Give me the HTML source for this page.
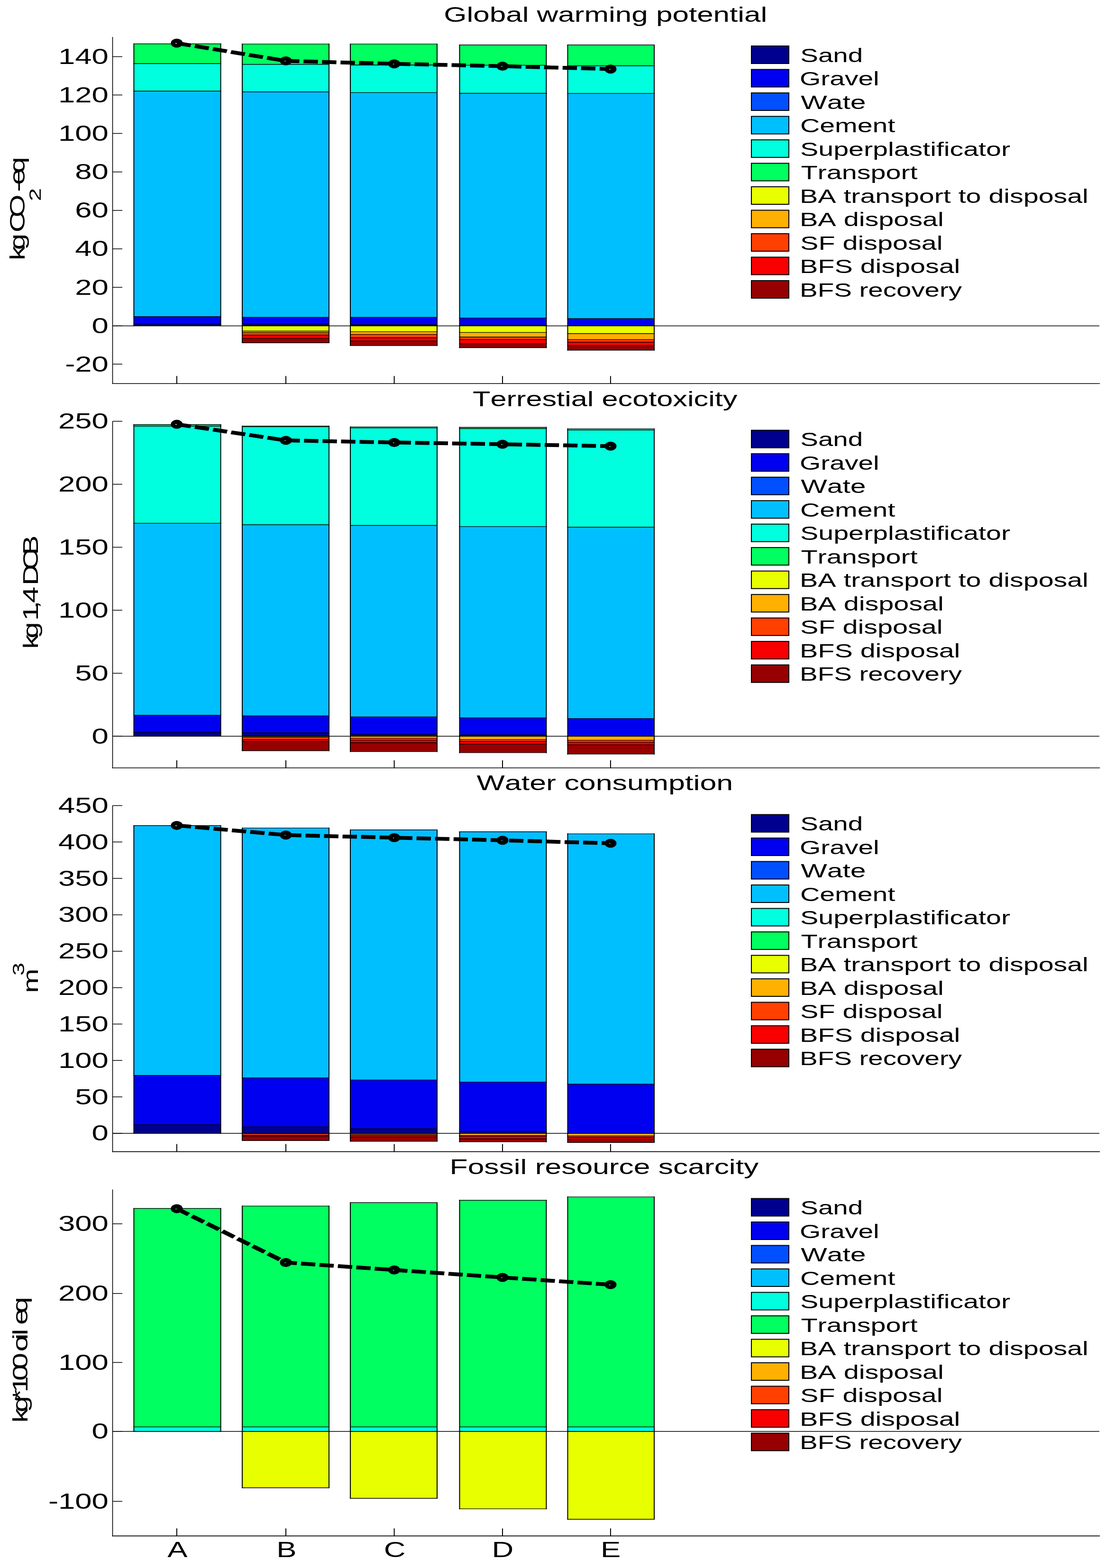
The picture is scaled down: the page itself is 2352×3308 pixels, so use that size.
<!DOCTYPE html>
<html><head><meta charset="utf-8"><title>LCA impact categories</title>
<style>html,body{margin:0;padding:0;background:#fff;}svg{display:block;}text{font-family:"Liberation Sans",Arial,Helvetica,sans-serif;fill:#000;font-kerning:none;font-variant-ligatures:none;}</style></head><body>
<svg width="2352" height="3308" viewBox="0 0 2352 3308">
<rect x="0" y="0" width="2352" height="3308" fill="#fff"/>
<g>
<rect x="282.4" y="683.4" width="183.2" height="4" fill="#00008f"/>
<rect x="282.4" y="668" width="183.2" height="15.4" fill="#0000f0"/>
<rect x="282.4" y="192.3" width="183.2" height="475.7" fill="#00bfff"/>
<rect x="282.4" y="134.3" width="183.2" height="58" fill="#00ffdf"/>
<rect x="282.4" y="92.5" width="183.2" height="41.8" fill="#00ff60"/>
<line x1="281.4" y1="92.5" x2="466.6" y2="92.5" stroke="#000" stroke-width="1.4"/>
<line x1="281.4" y1="134.3" x2="466.6" y2="134.3" stroke="#000" stroke-width="1.4"/>
<line x1="281.4" y1="192.3" x2="466.6" y2="192.3" stroke="#000" stroke-width="1.4"/>
<line x1="281.4" y1="668" x2="466.6" y2="668" stroke="#000" stroke-width="1.4"/>
<line x1="281.4" y1="683.4" x2="466.6" y2="683.4" stroke="#000" stroke-width="1.4"/>
<line x1="281.4" y1="687.4" x2="466.6" y2="687.4" stroke="#000" stroke-width="1.4"/>
<line x1="282.4" y1="91.7" x2="282.4" y2="688.2" stroke="#000" stroke-width="2"/>
<line x1="465.6" y1="91.7" x2="465.6" y2="688.2" stroke="#000" stroke-width="2"/>
<rect x="511" y="683.4" width="183" height="4" fill="#00008f"/>
<rect x="511" y="669.4" width="183" height="14" fill="#0000f0"/>
<rect x="511" y="193.8" width="183" height="475.6" fill="#00bfff"/>
<rect x="511" y="135.8" width="183" height="58" fill="#00ffdf"/>
<rect x="511" y="92.9" width="183" height="42.9" fill="#00ff60"/>
<rect x="511" y="687.4" width="183" height="11" fill="#e8ff00"/>
<rect x="511" y="698.4" width="183" height="3" fill="#ffb000"/>
<rect x="511" y="701.4" width="183" height="5.5" fill="#ff4000"/>
<rect x="511" y="706.9" width="183" height="7" fill="#f80000"/>
<rect x="511" y="713.9" width="183" height="9.4" fill="#960000"/>
<line x1="510" y1="92.9" x2="695" y2="92.9" stroke="#000" stroke-width="1.4"/>
<line x1="510" y1="135.8" x2="695" y2="135.8" stroke="#000" stroke-width="1.4"/>
<line x1="510" y1="193.8" x2="695" y2="193.8" stroke="#000" stroke-width="1.4"/>
<line x1="510" y1="669.4" x2="695" y2="669.4" stroke="#000" stroke-width="1.4"/>
<line x1="510" y1="683.4" x2="695" y2="683.4" stroke="#000" stroke-width="1.4"/>
<line x1="510" y1="687.4" x2="695" y2="687.4" stroke="#000" stroke-width="1.4"/>
<line x1="510" y1="698.4" x2="695" y2="698.4" stroke="#000" stroke-width="1.4"/>
<line x1="510" y1="701.4" x2="695" y2="701.4" stroke="#000" stroke-width="1.4"/>
<line x1="510" y1="706.9" x2="695" y2="706.9" stroke="#000" stroke-width="1.4"/>
<line x1="510" y1="713.9" x2="695" y2="713.9" stroke="#000" stroke-width="1.4"/>
<line x1="510" y1="723.3" x2="695" y2="723.3" stroke="#000" stroke-width="1.4"/>
<line x1="511" y1="92.1" x2="511" y2="724.1" stroke="#000" stroke-width="2"/>
<line x1="694" y1="92.1" x2="694" y2="724.1" stroke="#000" stroke-width="2"/>
<rect x="739" y="684.9" width="183" height="2.5" fill="#00008f"/>
<rect x="739" y="669.4" width="183" height="15.5" fill="#0000f0"/>
<rect x="739" y="195.4" width="183" height="474" fill="#00bfff"/>
<rect x="739" y="137.2" width="183" height="58.2" fill="#00ffdf"/>
<rect x="739" y="92.9" width="183" height="44.3" fill="#00ff60"/>
<rect x="739" y="687.4" width="183" height="12.5" fill="#e8ff00"/>
<rect x="739" y="699.9" width="183" height="5.5" fill="#ffb000"/>
<rect x="739" y="705.4" width="183" height="7.1" fill="#ff4000"/>
<rect x="739" y="712.5" width="183" height="7" fill="#f80000"/>
<rect x="739" y="719.5" width="183" height="9.6" fill="#960000"/>
<line x1="738" y1="92.9" x2="923" y2="92.9" stroke="#000" stroke-width="1.4"/>
<line x1="738" y1="137.2" x2="923" y2="137.2" stroke="#000" stroke-width="1.4"/>
<line x1="738" y1="195.4" x2="923" y2="195.4" stroke="#000" stroke-width="1.4"/>
<line x1="738" y1="669.4" x2="923" y2="669.4" stroke="#000" stroke-width="1.4"/>
<line x1="738" y1="684.9" x2="923" y2="684.9" stroke="#000" stroke-width="1.4"/>
<line x1="738" y1="687.4" x2="923" y2="687.4" stroke="#000" stroke-width="1.4"/>
<line x1="738" y1="699.9" x2="923" y2="699.9" stroke="#000" stroke-width="1.4"/>
<line x1="738" y1="705.4" x2="923" y2="705.4" stroke="#000" stroke-width="1.4"/>
<line x1="738" y1="712.5" x2="923" y2="712.5" stroke="#000" stroke-width="1.4"/>
<line x1="738" y1="719.5" x2="923" y2="719.5" stroke="#000" stroke-width="1.4"/>
<line x1="738" y1="729.1" x2="923" y2="729.1" stroke="#000" stroke-width="1.4"/>
<line x1="739" y1="92.1" x2="739" y2="729.9" stroke="#000" stroke-width="2"/>
<line x1="922" y1="92.1" x2="922" y2="729.9" stroke="#000" stroke-width="2"/>
<rect x="969.5" y="686.2" width="182.9" height="1.2" fill="#00008f"/>
<rect x="969.5" y="670.9" width="182.9" height="15.3" fill="#0000f0"/>
<rect x="969.5" y="196.7" width="182.9" height="474.2" fill="#00bfff"/>
<rect x="969.5" y="137.6" width="182.9" height="59.1" fill="#00ffdf"/>
<rect x="969.5" y="94.8" width="182.9" height="42.8" fill="#00ff60"/>
<rect x="969.5" y="687.4" width="182.9" height="14" fill="#e8ff00"/>
<rect x="969.5" y="701.4" width="182.9" height="9.6" fill="#ffb000"/>
<rect x="969.5" y="711" width="182.9" height="5.4" fill="#ff4000"/>
<rect x="969.5" y="716.4" width="182.9" height="8.5" fill="#f80000"/>
<rect x="969.5" y="724.9" width="182.9" height="8.6" fill="#960000"/>
<line x1="968.5" y1="94.8" x2="1153.4" y2="94.8" stroke="#000" stroke-width="1.4"/>
<line x1="968.5" y1="137.6" x2="1153.4" y2="137.6" stroke="#000" stroke-width="1.4"/>
<line x1="968.5" y1="196.7" x2="1153.4" y2="196.7" stroke="#000" stroke-width="1.4"/>
<line x1="968.5" y1="670.9" x2="1153.4" y2="670.9" stroke="#000" stroke-width="1.4"/>
<line x1="968.5" y1="686.2" x2="1153.4" y2="686.2" stroke="#000" stroke-width="1.4"/>
<line x1="968.5" y1="687.4" x2="1153.4" y2="687.4" stroke="#000" stroke-width="1.4"/>
<line x1="968.5" y1="701.4" x2="1153.4" y2="701.4" stroke="#000" stroke-width="1.4"/>
<line x1="968.5" y1="711" x2="1153.4" y2="711" stroke="#000" stroke-width="1.4"/>
<line x1="968.5" y1="716.4" x2="1153.4" y2="716.4" stroke="#000" stroke-width="1.4"/>
<line x1="968.5" y1="724.9" x2="1153.4" y2="724.9" stroke="#000" stroke-width="1.4"/>
<line x1="968.5" y1="733.5" x2="1153.4" y2="733.5" stroke="#000" stroke-width="1.4"/>
<line x1="969.5" y1="94" x2="969.5" y2="734.3" stroke="#000" stroke-width="2"/>
<line x1="1152.4" y1="94" x2="1152.4" y2="734.3" stroke="#000" stroke-width="2"/>
<rect x="1197.5" y="672.2" width="182.5" height="15.2" fill="#0000f0"/>
<rect x="1197.5" y="197.1" width="182.5" height="475.1" fill="#00bfff"/>
<rect x="1197.5" y="138.7" width="182.5" height="58.4" fill="#00ffdf"/>
<rect x="1197.5" y="94.8" width="182.5" height="43.9" fill="#00ff60"/>
<rect x="1197.5" y="687.4" width="182.5" height="16.4" fill="#e8ff00"/>
<rect x="1197.5" y="703.8" width="182.5" height="12.6" fill="#ffb000"/>
<rect x="1197.5" y="716.4" width="182.5" height="5.4" fill="#ff4000"/>
<rect x="1197.5" y="721.8" width="182.5" height="7.1" fill="#f80000"/>
<rect x="1197.5" y="728.9" width="182.5" height="9.8" fill="#960000"/>
<line x1="1196.5" y1="94.8" x2="1381" y2="94.8" stroke="#000" stroke-width="1.4"/>
<line x1="1196.5" y1="138.7" x2="1381" y2="138.7" stroke="#000" stroke-width="1.4"/>
<line x1="1196.5" y1="197.1" x2="1381" y2="197.1" stroke="#000" stroke-width="1.4"/>
<line x1="1196.5" y1="672.2" x2="1381" y2="672.2" stroke="#000" stroke-width="1.4"/>
<line x1="1196.5" y1="687.4" x2="1381" y2="687.4" stroke="#000" stroke-width="1.4"/>
<line x1="1196.5" y1="703.8" x2="1381" y2="703.8" stroke="#000" stroke-width="1.4"/>
<line x1="1196.5" y1="716.4" x2="1381" y2="716.4" stroke="#000" stroke-width="1.4"/>
<line x1="1196.5" y1="721.8" x2="1381" y2="721.8" stroke="#000" stroke-width="1.4"/>
<line x1="1196.5" y1="728.9" x2="1381" y2="728.9" stroke="#000" stroke-width="1.4"/>
<line x1="1196.5" y1="738.7" x2="1381" y2="738.7" stroke="#000" stroke-width="1.4"/>
<line x1="1197.5" y1="94" x2="1197.5" y2="739.5" stroke="#000" stroke-width="2"/>
<line x1="1380" y1="94" x2="1380" y2="739.5" stroke="#000" stroke-width="2"/>
<line x1="237.5" y1="687.4" x2="2319" y2="687.4" stroke="#000" stroke-width="1.5"/>
<line x1="237.5" y1="78" x2="237.5" y2="810.1" stroke="#000" stroke-width="1.6"/>
<line x1="236.7" y1="809.3" x2="2320" y2="809.3" stroke="#000" stroke-width="1.6"/>
<line x1="237.5" y1="119.5" x2="258" y2="119.5" stroke="#000" stroke-width="1.5"/>
<line x1="237.5" y1="200.4" x2="258" y2="200.4" stroke="#000" stroke-width="1.5"/>
<line x1="237.5" y1="281.5" x2="258" y2="281.5" stroke="#000" stroke-width="1.5"/>
<line x1="237.5" y1="362.7" x2="258" y2="362.7" stroke="#000" stroke-width="1.5"/>
<line x1="237.5" y1="443.9" x2="258" y2="443.9" stroke="#000" stroke-width="1.5"/>
<line x1="237.5" y1="525" x2="258" y2="525" stroke="#000" stroke-width="1.5"/>
<line x1="237.5" y1="606.2" x2="258" y2="606.2" stroke="#000" stroke-width="1.5"/>
<line x1="237.5" y1="687.4" x2="258" y2="687.4" stroke="#000" stroke-width="1.5"/>
<line x1="237.5" y1="768.2" x2="258" y2="768.2" stroke="#000" stroke-width="1.5"/>
<line x1="372.9" y1="793.3" x2="372.9" y2="809.3" stroke="#000" stroke-width="2"/>
<line x1="603" y1="793.3" x2="603" y2="809.3" stroke="#000" stroke-width="2"/>
<line x1="831.6" y1="793.3" x2="831.6" y2="809.3" stroke="#000" stroke-width="2"/>
<line x1="1060" y1="793.3" x2="1060" y2="809.3" stroke="#000" stroke-width="2"/>
<line x1="1287.9" y1="793.3" x2="1287.9" y2="809.3" stroke="#000" stroke-width="2"/>
<g transform="scale(1.41 1)">
<polyline points="264.47,91 427.66,128.5 589.79,134.7 751.77,139.6 913.4,145.7" fill="none" stroke="#000" stroke-width="8" stroke-dasharray="21.5 6.2" stroke-linejoin="miter"/>
</g>
<ellipse cx="372.9" cy="91" rx="12.5" ry="9.5" fill="#000"/>
<ellipse cx="371.4" cy="91.5" rx="1.3" ry="1" fill="#fff"/>
<ellipse cx="603" cy="128.5" rx="12.5" ry="9.5" fill="#000"/>
<ellipse cx="601.5" cy="129" rx="1.3" ry="1" fill="#00ff60"/>
<ellipse cx="831.6" cy="134.7" rx="12.5" ry="9.5" fill="#000"/>
<ellipse cx="830.1" cy="135.2" rx="1.3" ry="1" fill="#00ff60"/>
<ellipse cx="1060" cy="139.6" rx="12.5" ry="9.5" fill="#000"/>
<ellipse cx="1058.5" cy="140.1" rx="1.3" ry="1" fill="#00ffdf"/>
<ellipse cx="1287.9" cy="145.7" rx="12.5" ry="9.5" fill="#000"/>
<ellipse cx="1286.4" cy="146.2" rx="1.3" ry="1" fill="#00ffdf"/>
<text class="t" font-size="46.5" transform="translate(123.01 134.98) scale(1.3645 1)">140</text>
<text class="t" font-size="46.5" transform="translate(123.01 215.88) scale(1.3645 1)">120</text>
<text class="t" font-size="46.5" transform="translate(123.01 296.98) scale(1.3645 1)">100</text>
<text class="t" font-size="46.5" transform="translate(158.3 378.18) scale(1.3645 1)">80</text>
<text class="t" font-size="46.5" transform="translate(158.3 459.38) scale(1.3645 1)">60</text>
<text class="t" font-size="46.5" transform="translate(158.3 540.48) scale(1.3645 1)">40</text>
<text class="t" font-size="46.5" transform="translate(158.3 621.68) scale(1.3645 1)">20</text>
<text class="t" font-size="46.5" transform="translate(193.59 702.88) scale(1.3645 1)">0</text>
<text class="t" font-size="46.5" transform="translate(137.17 783.68) scale(1.3645 1)">-20</text>
<text class="t" font-size="44" transform="translate(936.28 45.7) scale(1.4087 1)">Global warming potential</text>
<rect x="1585" y="97" width="79" height="37" fill="#00008f" stroke="#000" stroke-width="2"/>
<text class="t" font-size="40" transform="translate(1688.24 130.7) scale(1.4120 1)">Sand</text>
<rect x="1585" y="146.5" width="79" height="37" fill="#0000f0" stroke="#000" stroke-width="2"/>
<text class="t" font-size="40" transform="translate(1686.93 180.2) scale(1.4250 1)">Gravel</text>
<rect x="1585" y="196" width="79" height="37" fill="#0050ff" stroke="#000" stroke-width="2"/>
<text class="t" font-size="40" transform="translate(1689.34 229.7) scale(1.4704 1)">Wate</text>
<rect x="1585" y="245.5" width="79" height="37" fill="#00bfff" stroke="#000" stroke-width="2"/>
<text class="t" font-size="40" transform="translate(1687.89 279.2) scale(1.4317 1)">Cement</text>
<rect x="1585" y="295" width="79" height="37" fill="#00ffdf" stroke="#000" stroke-width="2"/>
<text class="t" font-size="40" transform="translate(1688.1 328.7) scale(1.4336 1)">Superplastificator</text>
<rect x="1585" y="344.5" width="79" height="37" fill="#00ff60" stroke="#000" stroke-width="2"/>
<text class="t" font-size="40" transform="translate(1689.41 378.2) scale(1.4384 1)">Transport</text>
<rect x="1585" y="394" width="79" height="37" fill="#e8ff00" stroke="#000" stroke-width="2"/>
<text class="t" font-size="40" transform="translate(1686.99 427.7) scale(1.4342 1)">BA transport to disposal</text>
<rect x="1585" y="443.5" width="79" height="37" fill="#ffb000" stroke="#000" stroke-width="2"/>
<text class="t" font-size="40" transform="translate(1686.98 477.2) scale(1.4386 1)">BA disposal</text>
<rect x="1585" y="493" width="79" height="37" fill="#ff4000" stroke="#000" stroke-width="2"/>
<text class="t" font-size="40" transform="translate(1688.09 526.7) scale(1.4372 1)">SF disposal</text>
<rect x="1585" y="542.5" width="79" height="37" fill="#f80000" stroke="#000" stroke-width="2"/>
<text class="t" font-size="40" transform="translate(1686.99 576.2) scale(1.4362 1)">BFS disposal</text>
<rect x="1585" y="592" width="79" height="37" fill="#960000" stroke="#000" stroke-width="2"/>
<text class="t" font-size="40" transform="translate(1687.07 625.7) scale(1.4117 1)">BFS recovery</text>
<text class="yl" transform="translate(52 549.2) rotate(-90) scale(1.41 1)"><tspan x="0 15.63 33.02 41.71 64.29" y="0" font-size="44">kg CO</tspan><tspan x="88.61" y="34.3" font-size="35">2</tspan><tspan x="102.45 112.86 130.25" y="0" font-size="44">-eq</tspan></text>
</g>
<g>
<rect x="282.4" y="1544.9" width="183.2" height="8.4" fill="#00008f"/>
<rect x="282.4" y="1508.9" width="183.2" height="36" fill="#0000f0"/>
<rect x="282.4" y="1103.9" width="183.2" height="405" fill="#00bfff"/>
<rect x="282.4" y="899" width="183.2" height="204.9" fill="#00ffdf"/>
<rect x="282.4" y="895.8" width="183.2" height="3.2" fill="#00ff60"/>
<line x1="281.4" y1="895.8" x2="466.6" y2="895.8" stroke="#000" stroke-width="1.4"/>
<line x1="281.4" y1="899" x2="466.6" y2="899" stroke="#000" stroke-width="1.4"/>
<line x1="281.4" y1="1103.9" x2="466.6" y2="1103.9" stroke="#000" stroke-width="1.4"/>
<line x1="281.4" y1="1508.9" x2="466.6" y2="1508.9" stroke="#000" stroke-width="1.4"/>
<line x1="281.4" y1="1544.9" x2="466.6" y2="1544.9" stroke="#000" stroke-width="1.4"/>
<line x1="281.4" y1="1553.3" x2="466.6" y2="1553.3" stroke="#000" stroke-width="1.4"/>
<line x1="282.4" y1="895" x2="282.4" y2="1554.1" stroke="#000" stroke-width="2"/>
<line x1="465.6" y1="895" x2="465.6" y2="1554.1" stroke="#000" stroke-width="2"/>
<rect x="511" y="1546.3" width="183" height="7" fill="#00008f"/>
<rect x="511" y="1510.3" width="183" height="36" fill="#0000f0"/>
<rect x="511" y="1107" width="183" height="403.3" fill="#00bfff"/>
<rect x="511" y="900.3" width="183" height="206.7" fill="#00ffdf"/>
<rect x="511" y="898.9" width="183" height="1.4" fill="#00ff60"/>
<rect x="511" y="1553.3" width="183" height="2" fill="#ffb000"/>
<rect x="511" y="1555.3" width="183" height="5.1" fill="#ff4000"/>
<rect x="511" y="1560.4" width="183" height="3.9" fill="#f80000"/>
<rect x="511" y="1564.3" width="183" height="19.4" fill="#960000"/>
<line x1="510" y1="898.9" x2="695" y2="898.9" stroke="#000" stroke-width="1.4"/>
<line x1="510" y1="900.3" x2="695" y2="900.3" stroke="#000" stroke-width="1.4"/>
<line x1="510" y1="1107" x2="695" y2="1107" stroke="#000" stroke-width="1.4"/>
<line x1="510" y1="1510.3" x2="695" y2="1510.3" stroke="#000" stroke-width="1.4"/>
<line x1="510" y1="1546.3" x2="695" y2="1546.3" stroke="#000" stroke-width="1.4"/>
<line x1="510" y1="1553.3" x2="695" y2="1553.3" stroke="#000" stroke-width="1.4"/>
<line x1="510" y1="1555.3" x2="695" y2="1555.3" stroke="#000" stroke-width="1.4"/>
<line x1="510" y1="1560.4" x2="695" y2="1560.4" stroke="#000" stroke-width="1.4"/>
<line x1="510" y1="1564.3" x2="695" y2="1564.3" stroke="#000" stroke-width="1.4"/>
<line x1="510" y1="1583.7" x2="695" y2="1583.7" stroke="#000" stroke-width="1.4"/>
<line x1="511" y1="898.1" x2="511" y2="1584.5" stroke="#000" stroke-width="2"/>
<line x1="694" y1="898.1" x2="694" y2="1584.5" stroke="#000" stroke-width="2"/>
<rect x="739" y="1548.9" width="183" height="4.4" fill="#00008f"/>
<rect x="739" y="1512.4" width="183" height="36.5" fill="#0000f0"/>
<rect x="739" y="1108.5" width="183" height="403.9" fill="#00bfff"/>
<rect x="739" y="902.9" width="183" height="205.6" fill="#00ffdf"/>
<rect x="739" y="900.6" width="183" height="2.3" fill="#00ff60"/>
<rect x="739" y="1553.3" width="183" height="4.1" fill="#ffb000"/>
<rect x="739" y="1557.4" width="183" height="4" fill="#ff4000"/>
<rect x="739" y="1561.4" width="183" height="5.4" fill="#f80000"/>
<rect x="739" y="1566.8" width="183" height="18.8" fill="#960000"/>
<line x1="738" y1="900.6" x2="923" y2="900.6" stroke="#000" stroke-width="1.4"/>
<line x1="738" y1="902.9" x2="923" y2="902.9" stroke="#000" stroke-width="1.4"/>
<line x1="738" y1="1108.5" x2="923" y2="1108.5" stroke="#000" stroke-width="1.4"/>
<line x1="738" y1="1512.4" x2="923" y2="1512.4" stroke="#000" stroke-width="1.4"/>
<line x1="738" y1="1548.9" x2="923" y2="1548.9" stroke="#000" stroke-width="1.4"/>
<line x1="738" y1="1553.3" x2="923" y2="1553.3" stroke="#000" stroke-width="1.4"/>
<line x1="738" y1="1557.4" x2="923" y2="1557.4" stroke="#000" stroke-width="1.4"/>
<line x1="738" y1="1561.4" x2="923" y2="1561.4" stroke="#000" stroke-width="1.4"/>
<line x1="738" y1="1566.8" x2="923" y2="1566.8" stroke="#000" stroke-width="1.4"/>
<line x1="738" y1="1585.6" x2="923" y2="1585.6" stroke="#000" stroke-width="1.4"/>
<line x1="739" y1="899.8" x2="739" y2="1586.4" stroke="#000" stroke-width="2"/>
<line x1="922" y1="899.8" x2="922" y2="1586.4" stroke="#000" stroke-width="2"/>
<rect x="969.5" y="1550.5" width="182.9" height="2.8" fill="#00008f"/>
<rect x="969.5" y="1514.5" width="182.9" height="36" fill="#0000f0"/>
<rect x="969.5" y="1110.9" width="182.9" height="403.6" fill="#00bfff"/>
<rect x="969.5" y="904.3" width="182.9" height="206.6" fill="#00ffdf"/>
<rect x="969.5" y="901.5" width="182.9" height="2.8" fill="#00ff60"/>
<rect x="969.5" y="1553.3" width="182.9" height="7.1" fill="#ffb000"/>
<rect x="969.5" y="1560.4" width="182.9" height="3.9" fill="#ff4000"/>
<rect x="969.5" y="1564.3" width="182.9" height="5.6" fill="#f80000"/>
<rect x="969.5" y="1569.9" width="182.9" height="18" fill="#960000"/>
<line x1="968.5" y1="901.5" x2="1153.4" y2="901.5" stroke="#000" stroke-width="1.4"/>
<line x1="968.5" y1="904.3" x2="1153.4" y2="904.3" stroke="#000" stroke-width="1.4"/>
<line x1="968.5" y1="1110.9" x2="1153.4" y2="1110.9" stroke="#000" stroke-width="1.4"/>
<line x1="968.5" y1="1514.5" x2="1153.4" y2="1514.5" stroke="#000" stroke-width="1.4"/>
<line x1="968.5" y1="1550.5" x2="1153.4" y2="1550.5" stroke="#000" stroke-width="1.4"/>
<line x1="968.5" y1="1553.3" x2="1153.4" y2="1553.3" stroke="#000" stroke-width="1.4"/>
<line x1="968.5" y1="1560.4" x2="1153.4" y2="1560.4" stroke="#000" stroke-width="1.4"/>
<line x1="968.5" y1="1564.3" x2="1153.4" y2="1564.3" stroke="#000" stroke-width="1.4"/>
<line x1="968.5" y1="1569.9" x2="1153.4" y2="1569.9" stroke="#000" stroke-width="1.4"/>
<line x1="968.5" y1="1587.9" x2="1153.4" y2="1587.9" stroke="#000" stroke-width="1.4"/>
<line x1="969.5" y1="900.7" x2="969.5" y2="1588.7" stroke="#000" stroke-width="2"/>
<line x1="1152.4" y1="900.7" x2="1152.4" y2="1588.7" stroke="#000" stroke-width="2"/>
<rect x="1197.5" y="1515.9" width="182.5" height="37.4" fill="#0000f0"/>
<rect x="1197.5" y="1112.3" width="182.5" height="403.6" fill="#00bfff"/>
<rect x="1197.5" y="907.4" width="182.5" height="204.9" fill="#00ffdf"/>
<rect x="1197.5" y="904.6" width="182.5" height="2.8" fill="#00ff60"/>
<rect x="1197.5" y="1553.3" width="182.5" height="8.3" fill="#ffb000"/>
<rect x="1197.5" y="1561.6" width="182.5" height="4.3" fill="#ff4000"/>
<rect x="1197.5" y="1565.9" width="182.5" height="5.5" fill="#f80000"/>
<rect x="1197.5" y="1571.4" width="182.5" height="19.5" fill="#960000"/>
<line x1="1196.5" y1="904.6" x2="1381" y2="904.6" stroke="#000" stroke-width="1.4"/>
<line x1="1196.5" y1="907.4" x2="1381" y2="907.4" stroke="#000" stroke-width="1.4"/>
<line x1="1196.5" y1="1112.3" x2="1381" y2="1112.3" stroke="#000" stroke-width="1.4"/>
<line x1="1196.5" y1="1515.9" x2="1381" y2="1515.9" stroke="#000" stroke-width="1.4"/>
<line x1="1196.5" y1="1553.3" x2="1381" y2="1553.3" stroke="#000" stroke-width="1.4"/>
<line x1="1196.5" y1="1561.6" x2="1381" y2="1561.6" stroke="#000" stroke-width="1.4"/>
<line x1="1196.5" y1="1565.9" x2="1381" y2="1565.9" stroke="#000" stroke-width="1.4"/>
<line x1="1196.5" y1="1571.4" x2="1381" y2="1571.4" stroke="#000" stroke-width="1.4"/>
<line x1="1196.5" y1="1590.9" x2="1381" y2="1590.9" stroke="#000" stroke-width="1.4"/>
<line x1="1197.5" y1="903.8" x2="1197.5" y2="1591.7" stroke="#000" stroke-width="2"/>
<line x1="1380" y1="903.8" x2="1380" y2="1591.7" stroke="#000" stroke-width="2"/>
<line x1="237.5" y1="1553.3" x2="2319" y2="1553.3" stroke="#000" stroke-width="1.5"/>
<line x1="237.5" y1="888.7" x2="237.5" y2="1620.8" stroke="#000" stroke-width="1.6"/>
<line x1="236.7" y1="1620" x2="2320" y2="1620" stroke="#000" stroke-width="1.6"/>
<line x1="237.5" y1="888.7" x2="258" y2="888.7" stroke="#000" stroke-width="1.5"/>
<line x1="237.5" y1="1021.6" x2="258" y2="1021.6" stroke="#000" stroke-width="1.5"/>
<line x1="237.5" y1="1154.5" x2="258" y2="1154.5" stroke="#000" stroke-width="1.5"/>
<line x1="237.5" y1="1287.4" x2="258" y2="1287.4" stroke="#000" stroke-width="1.5"/>
<line x1="237.5" y1="1420.4" x2="258" y2="1420.4" stroke="#000" stroke-width="1.5"/>
<line x1="237.5" y1="1553.3" x2="258" y2="1553.3" stroke="#000" stroke-width="1.5"/>
<line x1="372.9" y1="1604" x2="372.9" y2="1620" stroke="#000" stroke-width="2"/>
<line x1="603" y1="1604" x2="603" y2="1620" stroke="#000" stroke-width="2"/>
<line x1="831.6" y1="1604" x2="831.6" y2="1620" stroke="#000" stroke-width="2"/>
<line x1="1060" y1="1604" x2="1060" y2="1620" stroke="#000" stroke-width="2"/>
<line x1="1287.9" y1="1604" x2="1287.9" y2="1620" stroke="#000" stroke-width="2"/>
<g transform="scale(1.41 1)">
<polyline points="264.47,895.1 427.66,929.1 589.79,933.5 751.77,937.2 913.4,941.3" fill="none" stroke="#000" stroke-width="8" stroke-dasharray="21.5 6.2" stroke-linejoin="miter"/>
</g>
<ellipse cx="372.9" cy="895.1" rx="12.5" ry="9.5" fill="#000"/>
<ellipse cx="371.4" cy="895.6" rx="1.3" ry="1" fill="#fff"/>
<ellipse cx="603" cy="929.1" rx="12.5" ry="9.5" fill="#000"/>
<ellipse cx="601.5" cy="929.6" rx="1.3" ry="1" fill="#00ffdf"/>
<ellipse cx="831.6" cy="933.5" rx="12.5" ry="9.5" fill="#000"/>
<ellipse cx="830.1" cy="934" rx="1.3" ry="1" fill="#00ffdf"/>
<ellipse cx="1060" cy="937.2" rx="12.5" ry="9.5" fill="#000"/>
<ellipse cx="1058.5" cy="937.7" rx="1.3" ry="1" fill="#00ffdf"/>
<ellipse cx="1287.9" cy="941.3" rx="12.5" ry="9.5" fill="#000"/>
<ellipse cx="1286.4" cy="941.8" rx="1.3" ry="1" fill="#00ffdf"/>
<text class="t" font-size="46.5" transform="translate(123.01 904.18) scale(1.3645 1)">250</text>
<text class="t" font-size="46.5" transform="translate(123.01 1037.08) scale(1.3645 1)">200</text>
<text class="t" font-size="46.5" transform="translate(123.01 1169.98) scale(1.3645 1)">150</text>
<text class="t" font-size="46.5" transform="translate(123.01 1302.88) scale(1.3645 1)">100</text>
<text class="t" font-size="46.5" transform="translate(158.3 1435.88) scale(1.3645 1)">50</text>
<text class="t" font-size="46.5" transform="translate(193.59 1568.78) scale(1.3645 1)">0</text>
<text class="t" font-size="44" transform="translate(997.12 856.5) scale(1.3927 1)">Terrestial ecotoxicity</text>
<rect x="1585" y="907.7" width="79" height="37" fill="#00008f" stroke="#000" stroke-width="2"/>
<text class="t" font-size="40" transform="translate(1688.24 941.4) scale(1.4120 1)">Sand</text>
<rect x="1585" y="957.2" width="79" height="37" fill="#0000f0" stroke="#000" stroke-width="2"/>
<text class="t" font-size="40" transform="translate(1686.93 990.9) scale(1.4250 1)">Gravel</text>
<rect x="1585" y="1006.7" width="79" height="37" fill="#0050ff" stroke="#000" stroke-width="2"/>
<text class="t" font-size="40" transform="translate(1689.34 1040.4) scale(1.4704 1)">Wate</text>
<rect x="1585" y="1056.2" width="79" height="37" fill="#00bfff" stroke="#000" stroke-width="2"/>
<text class="t" font-size="40" transform="translate(1687.89 1089.9) scale(1.4317 1)">Cement</text>
<rect x="1585" y="1105.7" width="79" height="37" fill="#00ffdf" stroke="#000" stroke-width="2"/>
<text class="t" font-size="40" transform="translate(1688.1 1139.4) scale(1.4336 1)">Superplastificator</text>
<rect x="1585" y="1155.2" width="79" height="37" fill="#00ff60" stroke="#000" stroke-width="2"/>
<text class="t" font-size="40" transform="translate(1689.41 1188.9) scale(1.4384 1)">Transport</text>
<rect x="1585" y="1204.7" width="79" height="37" fill="#e8ff00" stroke="#000" stroke-width="2"/>
<text class="t" font-size="40" transform="translate(1686.99 1238.4) scale(1.4342 1)">BA transport to disposal</text>
<rect x="1585" y="1254.2" width="79" height="37" fill="#ffb000" stroke="#000" stroke-width="2"/>
<text class="t" font-size="40" transform="translate(1686.98 1287.9) scale(1.4386 1)">BA disposal</text>
<rect x="1585" y="1303.7" width="79" height="37" fill="#ff4000" stroke="#000" stroke-width="2"/>
<text class="t" font-size="40" transform="translate(1688.09 1337.4) scale(1.4372 1)">SF disposal</text>
<rect x="1585" y="1353.2" width="79" height="37" fill="#f80000" stroke="#000" stroke-width="2"/>
<text class="t" font-size="40" transform="translate(1686.99 1386.9) scale(1.4362 1)">BFS disposal</text>
<rect x="1585" y="1402.7" width="79" height="37" fill="#960000" stroke="#000" stroke-width="2"/>
<text class="t" font-size="40" transform="translate(1687.07 1436.4) scale(1.4117 1)">BFS recovery</text>
<text class="yl" transform="translate(80 1369) rotate(-90) scale(1.41 1)"><tspan x="0 15.82 33.42 42.21 59.81 68.6 86.2 94.99 117.84 140.69" y="0" font-size="44">kg 1,4 DCB</tspan></text>
</g>
<g>
<rect x="282.4" y="2372.9" width="183.2" height="18" fill="#00008f"/>
<rect x="282.4" y="2268.8" width="183.2" height="104.1" fill="#0000f0"/>
<rect x="282.4" y="1741.8" width="183.2" height="527" fill="#00bfff"/>
<line x1="281.4" y1="1741.8" x2="466.6" y2="1741.8" stroke="#000" stroke-width="1.4"/>
<line x1="281.4" y1="2268.8" x2="466.6" y2="2268.8" stroke="#000" stroke-width="1.4"/>
<line x1="281.4" y1="2372.9" x2="466.6" y2="2372.9" stroke="#000" stroke-width="1.4"/>
<line x1="281.4" y1="2390.9" x2="466.6" y2="2390.9" stroke="#000" stroke-width="1.4"/>
<line x1="282.4" y1="1741" x2="282.4" y2="2391.7" stroke="#000" stroke-width="2"/>
<line x1="465.6" y1="1741" x2="465.6" y2="2391.7" stroke="#000" stroke-width="2"/>
<rect x="511" y="2377.4" width="183" height="13.5" fill="#00008f"/>
<rect x="511" y="2274" width="183" height="103.4" fill="#0000f0"/>
<rect x="511" y="1746.9" width="183" height="527.1" fill="#00bfff"/>
<rect x="511" y="2390.9" width="183" height="0.7" fill="#ffb000"/>
<rect x="511" y="2391.6" width="183" height="3.7" fill="#ff4000"/>
<rect x="511" y="2395.3" width="183" height="2.1" fill="#f80000"/>
<rect x="511" y="2397.4" width="183" height="8.8" fill="#960000"/>
<line x1="510" y1="1746.9" x2="695" y2="1746.9" stroke="#000" stroke-width="1.4"/>
<line x1="510" y1="2274" x2="695" y2="2274" stroke="#000" stroke-width="1.4"/>
<line x1="510" y1="2377.4" x2="695" y2="2377.4" stroke="#000" stroke-width="1.4"/>
<line x1="510" y1="2390.9" x2="695" y2="2390.9" stroke="#000" stroke-width="1.4"/>
<line x1="510" y1="2391.6" x2="695" y2="2391.6" stroke="#000" stroke-width="1.4"/>
<line x1="510" y1="2395.3" x2="695" y2="2395.3" stroke="#000" stroke-width="1.4"/>
<line x1="510" y1="2397.4" x2="695" y2="2397.4" stroke="#000" stroke-width="1.4"/>
<line x1="510" y1="2406.2" x2="695" y2="2406.2" stroke="#000" stroke-width="1.4"/>
<line x1="511" y1="1746.1" x2="511" y2="2407" stroke="#000" stroke-width="2"/>
<line x1="694" y1="1746.1" x2="694" y2="2407" stroke="#000" stroke-width="2"/>
<rect x="739" y="2381.4" width="183" height="9.5" fill="#00008f"/>
<rect x="739" y="2278.4" width="183" height="103" fill="#0000f0"/>
<rect x="739" y="1750.8" width="183" height="527.6" fill="#00bfff"/>
<rect x="739" y="2390.9" width="183" height="2.3" fill="#ffb000"/>
<rect x="739" y="2393.2" width="183" height="2.8" fill="#ff4000"/>
<rect x="739" y="2396" width="183" height="3.2" fill="#f80000"/>
<rect x="739" y="2399.2" width="183" height="8.6" fill="#960000"/>
<line x1="738" y1="1750.8" x2="923" y2="1750.8" stroke="#000" stroke-width="1.4"/>
<line x1="738" y1="2278.4" x2="923" y2="2278.4" stroke="#000" stroke-width="1.4"/>
<line x1="738" y1="2381.4" x2="923" y2="2381.4" stroke="#000" stroke-width="1.4"/>
<line x1="738" y1="2390.9" x2="923" y2="2390.9" stroke="#000" stroke-width="1.4"/>
<line x1="738" y1="2393.2" x2="923" y2="2393.2" stroke="#000" stroke-width="1.4"/>
<line x1="738" y1="2396" x2="923" y2="2396" stroke="#000" stroke-width="1.4"/>
<line x1="738" y1="2399.2" x2="923" y2="2399.2" stroke="#000" stroke-width="1.4"/>
<line x1="738" y1="2407.8" x2="923" y2="2407.8" stroke="#000" stroke-width="1.4"/>
<line x1="739" y1="1750" x2="739" y2="2408.6" stroke="#000" stroke-width="2"/>
<line x1="922" y1="1750" x2="922" y2="2408.6" stroke="#000" stroke-width="2"/>
<rect x="969.5" y="2387" width="182.9" height="3.9" fill="#00008f"/>
<rect x="969.5" y="2282.9" width="182.9" height="104.1" fill="#0000f0"/>
<rect x="969.5" y="1754.7" width="182.9" height="528.2" fill="#00bfff"/>
<rect x="969.5" y="2390.9" width="182.9" height="4.6" fill="#ffb000"/>
<rect x="969.5" y="2395.5" width="182.9" height="1.9" fill="#ff4000"/>
<rect x="969.5" y="2397.4" width="182.9" height="5.1" fill="#f80000"/>
<rect x="969.5" y="2402.5" width="182.9" height="6.4" fill="#960000"/>
<line x1="968.5" y1="1754.7" x2="1153.4" y2="1754.7" stroke="#000" stroke-width="1.4"/>
<line x1="968.5" y1="2282.9" x2="1153.4" y2="2282.9" stroke="#000" stroke-width="1.4"/>
<line x1="968.5" y1="2387" x2="1153.4" y2="2387" stroke="#000" stroke-width="1.4"/>
<line x1="968.5" y1="2390.9" x2="1153.4" y2="2390.9" stroke="#000" stroke-width="1.4"/>
<line x1="968.5" y1="2395.5" x2="1153.4" y2="2395.5" stroke="#000" stroke-width="1.4"/>
<line x1="968.5" y1="2397.4" x2="1153.4" y2="2397.4" stroke="#000" stroke-width="1.4"/>
<line x1="968.5" y1="2402.5" x2="1153.4" y2="2402.5" stroke="#000" stroke-width="1.4"/>
<line x1="968.5" y1="2408.9" x2="1153.4" y2="2408.9" stroke="#000" stroke-width="1.4"/>
<line x1="969.5" y1="1753.9" x2="969.5" y2="2409.7" stroke="#000" stroke-width="2"/>
<line x1="1152.4" y1="1753.9" x2="1152.4" y2="2409.7" stroke="#000" stroke-width="2"/>
<rect x="1197.5" y="2287.3" width="182.5" height="103.6" fill="#0000f0"/>
<rect x="1197.5" y="1759.1" width="182.5" height="528.2" fill="#00bfff"/>
<rect x="1197.5" y="2390.9" width="182.5" height="5.6" fill="#ffb000"/>
<rect x="1197.5" y="2396.5" width="182.5" height="3" fill="#ff4000"/>
<rect x="1197.5" y="2399.5" width="182.5" height="3.9" fill="#f80000"/>
<rect x="1197.5" y="2403.4" width="182.5" height="6.9" fill="#960000"/>
<line x1="1196.5" y1="1759.1" x2="1381" y2="1759.1" stroke="#000" stroke-width="1.4"/>
<line x1="1196.5" y1="2287.3" x2="1381" y2="2287.3" stroke="#000" stroke-width="1.4"/>
<line x1="1196.5" y1="2390.9" x2="1381" y2="2390.9" stroke="#000" stroke-width="1.4"/>
<line x1="1196.5" y1="2396.5" x2="1381" y2="2396.5" stroke="#000" stroke-width="1.4"/>
<line x1="1196.5" y1="2399.5" x2="1381" y2="2399.5" stroke="#000" stroke-width="1.4"/>
<line x1="1196.5" y1="2403.4" x2="1381" y2="2403.4" stroke="#000" stroke-width="1.4"/>
<line x1="1196.5" y1="2410.3" x2="1381" y2="2410.3" stroke="#000" stroke-width="1.4"/>
<line x1="1197.5" y1="1758.3" x2="1197.5" y2="2411.1" stroke="#000" stroke-width="2"/>
<line x1="1380" y1="1758.3" x2="1380" y2="2411.1" stroke="#000" stroke-width="2"/>
<line x1="237.5" y1="2390.9" x2="2319" y2="2390.9" stroke="#000" stroke-width="1.5"/>
<line x1="237.5" y1="1699.5" x2="237.5" y2="2430.4" stroke="#000" stroke-width="1.6"/>
<line x1="236.7" y1="2429.6" x2="2320" y2="2429.6" stroke="#000" stroke-width="1.6"/>
<line x1="237.5" y1="1699.52" x2="258" y2="1699.52" stroke="#000" stroke-width="1.5"/>
<line x1="237.5" y1="1776.34" x2="258" y2="1776.34" stroke="#000" stroke-width="1.5"/>
<line x1="237.5" y1="1853.16" x2="258" y2="1853.16" stroke="#000" stroke-width="1.5"/>
<line x1="237.5" y1="1929.98" x2="258" y2="1929.98" stroke="#000" stroke-width="1.5"/>
<line x1="237.5" y1="2006.8" x2="258" y2="2006.8" stroke="#000" stroke-width="1.5"/>
<line x1="237.5" y1="2083.62" x2="258" y2="2083.62" stroke="#000" stroke-width="1.5"/>
<line x1="237.5" y1="2160.44" x2="258" y2="2160.44" stroke="#000" stroke-width="1.5"/>
<line x1="237.5" y1="2237.26" x2="258" y2="2237.26" stroke="#000" stroke-width="1.5"/>
<line x1="237.5" y1="2314.08" x2="258" y2="2314.08" stroke="#000" stroke-width="1.5"/>
<line x1="237.5" y1="2390.9" x2="258" y2="2390.9" stroke="#000" stroke-width="1.5"/>
<line x1="372.9" y1="2413.6" x2="372.9" y2="2429.6" stroke="#000" stroke-width="2"/>
<line x1="603" y1="2413.6" x2="603" y2="2429.6" stroke="#000" stroke-width="2"/>
<line x1="831.6" y1="2413.6" x2="831.6" y2="2429.6" stroke="#000" stroke-width="2"/>
<line x1="1060" y1="2413.6" x2="1060" y2="2429.6" stroke="#000" stroke-width="2"/>
<line x1="1287.9" y1="2413.6" x2="1287.9" y2="2429.6" stroke="#000" stroke-width="2"/>
<g transform="scale(1.41 1)">
<polyline points="264.47,1741.4 427.66,1761.7 589.79,1767.3 751.77,1772.8 913.4,1779.1" fill="none" stroke="#000" stroke-width="8" stroke-dasharray="21.5 6.2" stroke-linejoin="miter"/>
</g>
<ellipse cx="372.9" cy="1741.4" rx="12.5" ry="9.5" fill="#000"/>
<ellipse cx="371.4" cy="1741.9" rx="1.3" ry="1" fill="#fff"/>
<ellipse cx="603" cy="1761.7" rx="12.5" ry="9.5" fill="#000"/>
<ellipse cx="601.5" cy="1762.2" rx="1.3" ry="1" fill="#00bfff"/>
<ellipse cx="831.6" cy="1767.3" rx="12.5" ry="9.5" fill="#000"/>
<ellipse cx="830.1" cy="1767.8" rx="1.3" ry="1" fill="#00bfff"/>
<ellipse cx="1060" cy="1772.8" rx="12.5" ry="9.5" fill="#000"/>
<ellipse cx="1058.5" cy="1773.3" rx="1.3" ry="1" fill="#00bfff"/>
<ellipse cx="1287.9" cy="1779.1" rx="12.5" ry="9.5" fill="#000"/>
<ellipse cx="1286.4" cy="1779.6" rx="1.3" ry="1" fill="#00bfff"/>
<text class="t" font-size="46.5" transform="translate(123.01 1715) scale(1.3645 1)">450</text>
<text class="t" font-size="46.5" transform="translate(123.01 1791.82) scale(1.3645 1)">400</text>
<text class="t" font-size="46.5" transform="translate(123.01 1868.64) scale(1.3645 1)">350</text>
<text class="t" font-size="46.5" transform="translate(123.01 1945.46) scale(1.3645 1)">300</text>
<text class="t" font-size="46.5" transform="translate(123.01 2022.28) scale(1.3645 1)">250</text>
<text class="t" font-size="46.5" transform="translate(123.01 2099.1) scale(1.3645 1)">200</text>
<text class="t" font-size="46.5" transform="translate(123.01 2175.92) scale(1.3645 1)">150</text>
<text class="t" font-size="46.5" transform="translate(123.01 2252.74) scale(1.3645 1)">100</text>
<text class="t" font-size="46.5" transform="translate(158.3 2329.56) scale(1.3645 1)">50</text>
<text class="t" font-size="46.5" transform="translate(193.59 2406.38) scale(1.3645 1)">0</text>
<text class="t" font-size="44" transform="translate(1005.62 1667.3) scale(1.4263 1)">Water consumption</text>
<rect x="1585" y="1718.5" width="79" height="37" fill="#00008f" stroke="#000" stroke-width="2"/>
<text class="t" font-size="40" transform="translate(1688.24 1752.2) scale(1.4120 1)">Sand</text>
<rect x="1585" y="1768" width="79" height="37" fill="#0000f0" stroke="#000" stroke-width="2"/>
<text class="t" font-size="40" transform="translate(1686.93 1801.7) scale(1.4250 1)">Gravel</text>
<rect x="1585" y="1817.5" width="79" height="37" fill="#0050ff" stroke="#000" stroke-width="2"/>
<text class="t" font-size="40" transform="translate(1689.34 1851.2) scale(1.4704 1)">Wate</text>
<rect x="1585" y="1867" width="79" height="37" fill="#00bfff" stroke="#000" stroke-width="2"/>
<text class="t" font-size="40" transform="translate(1687.89 1900.7) scale(1.4317 1)">Cement</text>
<rect x="1585" y="1916.5" width="79" height="37" fill="#00ffdf" stroke="#000" stroke-width="2"/>
<text class="t" font-size="40" transform="translate(1688.1 1950.2) scale(1.4336 1)">Superplastificator</text>
<rect x="1585" y="1966" width="79" height="37" fill="#00ff60" stroke="#000" stroke-width="2"/>
<text class="t" font-size="40" transform="translate(1689.41 1999.7) scale(1.4384 1)">Transport</text>
<rect x="1585" y="2015.5" width="79" height="37" fill="#e8ff00" stroke="#000" stroke-width="2"/>
<text class="t" font-size="40" transform="translate(1686.99 2049.2) scale(1.4342 1)">BA transport to disposal</text>
<rect x="1585" y="2065" width="79" height="37" fill="#ffb000" stroke="#000" stroke-width="2"/>
<text class="t" font-size="40" transform="translate(1686.98 2098.7) scale(1.4386 1)">BA disposal</text>
<rect x="1585" y="2114.5" width="79" height="37" fill="#ff4000" stroke="#000" stroke-width="2"/>
<text class="t" font-size="40" transform="translate(1688.09 2148.2) scale(1.4372 1)">SF disposal</text>
<rect x="1585" y="2164" width="79" height="37" fill="#f80000" stroke="#000" stroke-width="2"/>
<text class="t" font-size="40" transform="translate(1686.99 2197.7) scale(1.4362 1)">BFS disposal</text>
<rect x="1585" y="2213.5" width="79" height="37" fill="#960000" stroke="#000" stroke-width="2"/>
<text class="t" font-size="40" transform="translate(1687.07 2247.2) scale(1.4117 1)">BFS recovery</text>
<text class="yl" transform="translate(80 2095) rotate(-90) scale(1.41 1)"><tspan x="0" y="0" font-size="44">m</tspan><tspan x="25.99" y="-29.1" font-size="35">3</tspan></text>
</g>
<g>
<rect x="282.4" y="3010.4" width="183.2" height="9.3" fill="#00ffdf"/>
<rect x="282.4" y="2549.5" width="183.2" height="460.9" fill="#00ff60"/>
<line x1="281.4" y1="2549.5" x2="466.6" y2="2549.5" stroke="#000" stroke-width="1.4"/>
<line x1="281.4" y1="3010.4" x2="466.6" y2="3010.4" stroke="#000" stroke-width="1.4"/>
<line x1="281.4" y1="3019.7" x2="466.6" y2="3019.7" stroke="#000" stroke-width="1.4"/>
<line x1="282.4" y1="2548.7" x2="282.4" y2="3020.5" stroke="#000" stroke-width="2"/>
<line x1="465.6" y1="2548.7" x2="465.6" y2="3020.5" stroke="#000" stroke-width="2"/>
<rect x="511" y="3010.4" width="183" height="9.3" fill="#00ffdf"/>
<rect x="511" y="2544.4" width="183" height="466" fill="#00ff60"/>
<rect x="511" y="3019.7" width="183" height="119.1" fill="#e8ff00"/>
<line x1="510" y1="2544.4" x2="695" y2="2544.4" stroke="#000" stroke-width="1.4"/>
<line x1="510" y1="3010.4" x2="695" y2="3010.4" stroke="#000" stroke-width="1.4"/>
<line x1="510" y1="3019.7" x2="695" y2="3019.7" stroke="#000" stroke-width="1.4"/>
<line x1="510" y1="3138.8" x2="695" y2="3138.8" stroke="#000" stroke-width="1.4"/>
<line x1="511" y1="2543.6" x2="511" y2="3139.6" stroke="#000" stroke-width="2"/>
<line x1="694" y1="2543.6" x2="694" y2="3139.6" stroke="#000" stroke-width="2"/>
<rect x="739" y="3010.4" width="183" height="9.3" fill="#00ffdf"/>
<rect x="739" y="2537.3" width="183" height="473.1" fill="#00ff60"/>
<rect x="739" y="3019.7" width="183" height="141.3" fill="#e8ff00"/>
<line x1="738" y1="2537.3" x2="923" y2="2537.3" stroke="#000" stroke-width="1.4"/>
<line x1="738" y1="3010.4" x2="923" y2="3010.4" stroke="#000" stroke-width="1.4"/>
<line x1="738" y1="3019.7" x2="923" y2="3019.7" stroke="#000" stroke-width="1.4"/>
<line x1="738" y1="3161" x2="923" y2="3161" stroke="#000" stroke-width="1.4"/>
<line x1="739" y1="2536.5" x2="739" y2="3161.8" stroke="#000" stroke-width="2"/>
<line x1="922" y1="2536.5" x2="922" y2="3161.8" stroke="#000" stroke-width="2"/>
<rect x="969.5" y="3010.4" width="182.9" height="9.3" fill="#00ffdf"/>
<rect x="969.5" y="2532.2" width="182.9" height="478.2" fill="#00ff60"/>
<rect x="969.5" y="3019.7" width="182.9" height="163.4" fill="#e8ff00"/>
<line x1="968.5" y1="2532.2" x2="1153.4" y2="2532.2" stroke="#000" stroke-width="1.4"/>
<line x1="968.5" y1="3010.4" x2="1153.4" y2="3010.4" stroke="#000" stroke-width="1.4"/>
<line x1="968.5" y1="3019.7" x2="1153.4" y2="3019.7" stroke="#000" stroke-width="1.4"/>
<line x1="968.5" y1="3183.1" x2="1153.4" y2="3183.1" stroke="#000" stroke-width="1.4"/>
<line x1="969.5" y1="2531.4" x2="969.5" y2="3183.9" stroke="#000" stroke-width="2"/>
<line x1="1152.4" y1="2531.4" x2="1152.4" y2="3183.9" stroke="#000" stroke-width="2"/>
<rect x="1197.5" y="3010.4" width="182.5" height="9.3" fill="#00ffdf"/>
<rect x="1197.5" y="2525.1" width="182.5" height="485.3" fill="#00ff60"/>
<rect x="1197.5" y="3019.7" width="182.5" height="185.6" fill="#e8ff00"/>
<line x1="1196.5" y1="2525.1" x2="1381" y2="2525.1" stroke="#000" stroke-width="1.4"/>
<line x1="1196.5" y1="3010.4" x2="1381" y2="3010.4" stroke="#000" stroke-width="1.4"/>
<line x1="1196.5" y1="3019.7" x2="1381" y2="3019.7" stroke="#000" stroke-width="1.4"/>
<line x1="1196.5" y1="3205.3" x2="1381" y2="3205.3" stroke="#000" stroke-width="1.4"/>
<line x1="1197.5" y1="2524.3" x2="1197.5" y2="3206.1" stroke="#000" stroke-width="2"/>
<line x1="1380" y1="2524.3" x2="1380" y2="3206.1" stroke="#000" stroke-width="2"/>
<line x1="237.5" y1="3019.7" x2="2319" y2="3019.7" stroke="#000" stroke-width="1.5"/>
<line x1="237.5" y1="2509.5" x2="237.5" y2="3241.2" stroke="#000" stroke-width="1.6"/>
<line x1="236.7" y1="3240.4" x2="2320" y2="3240.4" stroke="#000" stroke-width="1.6"/>
<line x1="237.5" y1="2581.8" x2="258" y2="2581.8" stroke="#000" stroke-width="1.5"/>
<line x1="237.5" y1="2728.8" x2="258" y2="2728.8" stroke="#000" stroke-width="1.5"/>
<line x1="237.5" y1="2874.4" x2="258" y2="2874.4" stroke="#000" stroke-width="1.5"/>
<line x1="237.5" y1="3019.7" x2="258" y2="3019.7" stroke="#000" stroke-width="1.5"/>
<line x1="237.5" y1="3167.4" x2="258" y2="3167.4" stroke="#000" stroke-width="1.5"/>
<line x1="372.9" y1="3224.4" x2="372.9" y2="3240.4" stroke="#000" stroke-width="2"/>
<line x1="603" y1="3224.4" x2="603" y2="3240.4" stroke="#000" stroke-width="2"/>
<line x1="831.6" y1="3224.4" x2="831.6" y2="3240.4" stroke="#000" stroke-width="2"/>
<line x1="1060" y1="3224.4" x2="1060" y2="3240.4" stroke="#000" stroke-width="2"/>
<line x1="1287.9" y1="3224.4" x2="1287.9" y2="3240.4" stroke="#000" stroke-width="2"/>
<g transform="scale(1.41 1)">
<polyline points="264.47,2549.9 427.66,2663.5 589.79,2679.3 751.77,2695 913.4,2710.3" fill="none" stroke="#000" stroke-width="8" stroke-dasharray="21.5 6.2" stroke-linejoin="miter"/>
</g>
<ellipse cx="372.9" cy="2549.9" rx="12.5" ry="9.5" fill="#000"/>
<ellipse cx="371.4" cy="2550.4" rx="1.3" ry="1" fill="#00ff60"/>
<ellipse cx="603" cy="2663.5" rx="12.5" ry="9.5" fill="#000"/>
<ellipse cx="601.5" cy="2664" rx="1.3" ry="1" fill="#00ff60"/>
<ellipse cx="831.6" cy="2679.3" rx="12.5" ry="9.5" fill="#000"/>
<ellipse cx="830.1" cy="2679.8" rx="1.3" ry="1" fill="#00ff60"/>
<ellipse cx="1060" cy="2695" rx="12.5" ry="9.5" fill="#000"/>
<ellipse cx="1058.5" cy="2695.5" rx="1.3" ry="1" fill="#00ff60"/>
<ellipse cx="1287.9" cy="2710.3" rx="12.5" ry="9.5" fill="#000"/>
<ellipse cx="1286.4" cy="2710.8" rx="1.3" ry="1" fill="#00ff60"/>
<text class="t" font-size="46.5" transform="translate(123.01 2597.28) scale(1.3645 1)">300</text>
<text class="t" font-size="46.5" transform="translate(123.01 2744.28) scale(1.3645 1)">200</text>
<text class="t" font-size="46.5" transform="translate(123.01 2889.88) scale(1.3645 1)">100</text>
<text class="t" font-size="46.5" transform="translate(193.59 3035.18) scale(1.3645 1)">0</text>
<text class="t" font-size="46.5" transform="translate(101.89 3182.88) scale(1.3645 1)">-100</text>
<text class="t" font-size="44" transform="translate(948.58 2476.8) scale(1.4181 1)">Fossil resource scarcity</text>
<rect x="1585" y="2528.5" width="79" height="37" fill="#00008f" stroke="#000" stroke-width="2"/>
<text class="t" font-size="40" transform="translate(1688.24 2562.2) scale(1.4120 1)">Sand</text>
<rect x="1585" y="2578" width="79" height="37" fill="#0000f0" stroke="#000" stroke-width="2"/>
<text class="t" font-size="40" transform="translate(1686.93 2611.7) scale(1.4250 1)">Gravel</text>
<rect x="1585" y="2627.5" width="79" height="37" fill="#0050ff" stroke="#000" stroke-width="2"/>
<text class="t" font-size="40" transform="translate(1689.34 2661.2) scale(1.4704 1)">Wate</text>
<rect x="1585" y="2677" width="79" height="37" fill="#00bfff" stroke="#000" stroke-width="2"/>
<text class="t" font-size="40" transform="translate(1687.89 2710.7) scale(1.4317 1)">Cement</text>
<rect x="1585" y="2726.5" width="79" height="37" fill="#00ffdf" stroke="#000" stroke-width="2"/>
<text class="t" font-size="40" transform="translate(1688.1 2760.2) scale(1.4336 1)">Superplastificator</text>
<rect x="1585" y="2776" width="79" height="37" fill="#00ff60" stroke="#000" stroke-width="2"/>
<text class="t" font-size="40" transform="translate(1689.41 2809.7) scale(1.4384 1)">Transport</text>
<rect x="1585" y="2825.5" width="79" height="37" fill="#e8ff00" stroke="#000" stroke-width="2"/>
<text class="t" font-size="40" transform="translate(1686.99 2859.2) scale(1.4342 1)">BA transport to disposal</text>
<rect x="1585" y="2875" width="79" height="37" fill="#ffb000" stroke="#000" stroke-width="2"/>
<text class="t" font-size="40" transform="translate(1686.98 2908.7) scale(1.4386 1)">BA disposal</text>
<rect x="1585" y="2924.5" width="79" height="37" fill="#ff4000" stroke="#000" stroke-width="2"/>
<text class="t" font-size="40" transform="translate(1688.09 2958.2) scale(1.4372 1)">SF disposal</text>
<rect x="1585" y="2974" width="79" height="37" fill="#f80000" stroke="#000" stroke-width="2"/>
<text class="t" font-size="40" transform="translate(1686.99 3007.7) scale(1.4362 1)">BFS disposal</text>
<rect x="1585" y="3023.5" width="79" height="37" fill="#960000" stroke="#000" stroke-width="2"/>
<text class="t" font-size="40" transform="translate(1687.07 3057.2) scale(1.4117 1)">BFS recovery</text>
<text class="yl" transform="translate(57.8 3001.6) rotate(-90) scale(1.41 1)"><tspan x="0 15.68 33.12 45.33 62.77 80.21 97.65 106.37 123.81 130.78 137.74 146.46 163.9" y="0" font-size="44">kg*100 oil eq</tspan></text>
<text class="t" font-size="46.5" transform="translate(353.14 3285.3) scale(1.3645 1)">A</text>
<text class="t" font-size="46.5" transform="translate(583.31 3285.3) scale(1.3645 1)">B</text>
<text class="t" font-size="46.5" transform="translate(809.79 3285.3) scale(1.3645 1)">C</text>
<text class="t" font-size="46.5" transform="translate(1037.6 3285.3) scale(1.3645 1)">D</text>
<text class="t" font-size="46.5" transform="translate(1266.9 3285.3) scale(1.3645 1)">E</text>
</g>
</svg></body></html>
